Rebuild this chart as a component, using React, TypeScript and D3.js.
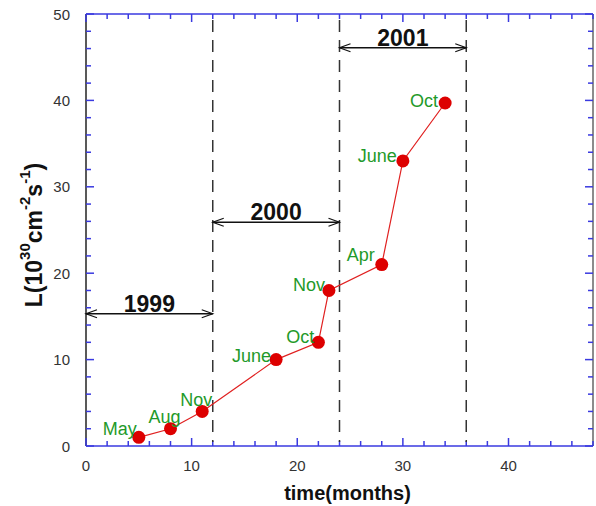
import React from "react";
import * as d3 from "d3";

const months = [5, 8, 11, 18, 22, 23, 28, 30, 34];
const lumin = [1, 2, 4, 10, 12, 18, 21, 33, 39.7];
const monthNames = ["May", "Aug", "Nov", "June", "Oct", "Nov", "Apr", "June", "Oct"];
const years = ["1999", "2000", "2001"];
const yearStart = [0, 12, 24];
const yearEnd = [12, 24, 36];
const yearArrowL = [15.3, 25.9, 46.1];
const dividers = [12, 24, 36];
const xTickLabels = [0, 10, 20, 30, 40];
const yTickLabels = [0, 10, 20, 30, 40, 50];

// label placement (pixel offsets of text end relative to point)
const labelDx = [-2, 10, 10, -5, -4, -4, -7, -6, -7];
const labelDy = [-2, -6, -5, 2, 1, 0.5, -4, 1, 4];

const W = 596, H = 506;
const L = 86, R = 593, T = 14, B = 446;

export default function App() {
  const x = d3.scaleLinear().domain([0, 48]).range([L, R]);
  const y = d3.scaleLinear().domain([0, 50]).range([B, T]);
  const line = d3.line<number>().x((d, i) => x(months[i])).y((d, i) => y(lumin[i]));
  const xMinor = d3.range(0, 49, 2);
  const yMinor = d3.range(0, 51, 2);
  const blue = "#3a3ae0";
  const font = "'Liberation Sans', Arial, sans-serif";
  const green = "#1f9a2a";

  const arrowHead = (tx: number, ty: number, dir: number) => (
    <path d={`M${tx + dir * 11},${ty - 4} L${tx},${ty} L${tx + dir * 11},${ty + 4}`} fill="none" stroke="#111" strokeWidth={1.2} />
  );

  return (
    <svg width={W} height={H} style={{ position: "absolute", left: 0, top: 0, background: "#fff" }} fontFamily={font}>
      {/* axis frame */}
      <line x1={L} y1={T} x2={R} y2={T} stroke={blue} strokeWidth={1.5} />
      <line x1={L} y1={B} x2={R} y2={B} stroke={blue} strokeWidth={1.5} />
      <line x1={L} y1={T} x2={L} y2={B} stroke="#222" strokeWidth={1.5} />
      <line x1={R} y1={T} x2={R} y2={B} stroke="#666" strokeWidth={1.5} />
      {/* x ticks */}
      {xMinor.map((v) => {
        const len = v % 10 === 0 ? 8 : 5;
        return (
          <g key={"xt" + v}>
            <line x1={x(v)} x2={x(v)} y1={B} y2={B - len} stroke={blue} strokeWidth={1.5} />
            <line x1={x(v)} x2={x(v)} y1={T} y2={T + len} stroke={blue} strokeWidth={1.5} />
          </g>
        );
      })}
      {yMinor.map((v) => {
        const len = v % 10 === 0 ? 8 : 5;
        return (
          <g key={"yt" + v}>
            <line x1={L} x2={L + len} y1={y(v)} y2={y(v)} stroke={blue} strokeWidth={1.5} />
            <line x1={R} x2={R - len} y1={y(v)} y2={y(v)} stroke={blue} strokeWidth={1.5} />
          </g>
        );
      })}
      {xTickLabels.map((v) => (
        <text key={"xl" + v} x={x(v)} y={B + 25} textAnchor="middle" fontSize={15} fill="#333">{v}</text>
      ))}
      {yTickLabels.map((v) => (
        <text key={"yl" + v} x={L - 16} y={y(v) + 5.5} textAnchor="end" fontSize={15} fill="#333">{v}</text>
      ))}
      {/* dividers */}
      {dividers.map((v) => (
        <line key={"dv" + v} x1={x(v)} x2={x(v)} y1={T + 6} y2={B - 4} stroke="#333" strokeWidth={1.5} strokeDasharray="12,8" />
      ))}
      {/* year arrows */}
      {years.map((yr, i) => {
        const ya = y(yearArrowL[i]);
        const x0 = x(yearStart[i]);
        const x1 = x(yearEnd[i]);
        return (
          <g key={yr}>
            <line x1={x0} x2={x1} y1={ya} y2={ya} stroke="#111" strokeWidth={1.5} />
            {arrowHead(x0, ya, 1)}
            {arrowHead(x1, ya, -1)}
            <text x={(x0 + x1) / 2} y={ya - 2} textAnchor="middle" fontSize={23} fontWeight="bold" fill="#111">{yr}</text>
          </g>
        );
      })}
      {/* data */}
      <path d={line(lumin) || ""} fill="none" stroke="#e02020" strokeWidth={1.2} />
      {lumin.map((v, i) => (
        <circle key={"pt" + i} cx={x(months[i])} cy={y(v)} r={6.5} fill="#dd0000" />
      ))}
      {monthNames.map((m, i) => (
        <text key={"ml" + i} x={x(months[i]) + labelDx[i]} y={y(lumin[i]) + labelDy[i]} textAnchor="end" fontSize={18} fill={green}>{m}</text>
      ))}
      {/* axis titles */}
      <text x={(L + R) / 2 + 8} y={500} textAnchor="middle" fontSize={20} fontWeight="bold" fill="#111">time(months)</text>
      <text transform={`translate(42, ${(T + B) / 2 + 5}) rotate(-90)`} textAnchor="middle" fontSize={23} fontWeight="bold" fill="#111">
        L(10<tspan fontSize={15} dy={-12}>30</tspan><tspan dy={12}>cm</tspan><tspan fontSize={15} dy={-12}>-2</tspan><tspan dy={12}>s</tspan><tspan fontSize={15} dy={-12}>-1</tspan><tspan dy={12}>)</tspan>
      </text>
    </svg>
  );
}
